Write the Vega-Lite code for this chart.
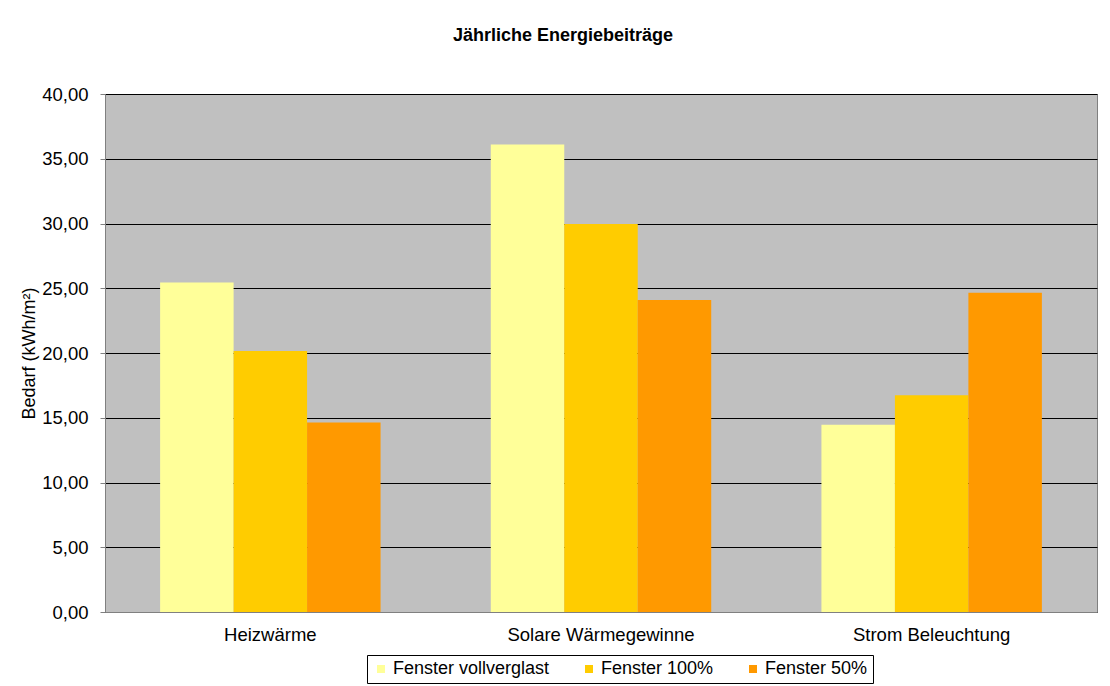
{
  "$schema": "https://vega.github.io/schema/vega-lite/v6.json",
  "width": 992,
  "height": 518,
  "autosize": {"type": "none"},
  "padding": {"left": 105, "top": 94, "right": 13, "bottom": 74},
  "background": "#ffffff",
  "title": {
    "text": "Jährliche Energiebeiträge",
    "anchor": "middle",
    "frame": "group",
    "dx": -38,
    "offset": 40,
    "font": "Liberation Sans",
    "fontSize": 18,
    "fontWeight": "bold",
    "color": "#000000"
  },
  "data": {
    "values": [
      {"kategorie": "Heizwärme", "variante": "Fenster vollverglast", "bedarf": 25.45},
      {"kategorie": "Heizwärme", "variante": "Fenster 100%", "bedarf": 20.15},
      {"kategorie": "Heizwärme", "variante": "Fenster 50%", "bedarf": 14.64},
      {"kategorie": "Solare Wärmegewinne", "variante": "Fenster vollverglast", "bedarf": 36.1},
      {"kategorie": "Solare Wärmegewinne", "variante": "Fenster 100%", "bedarf": 29.97},
      {"kategorie": "Solare Wärmegewinne", "variante": "Fenster 50%", "bedarf": 24.1},
      {"kategorie": "Strom Beleuchtung", "variante": "Fenster vollverglast", "bedarf": 14.45},
      {"kategorie": "Strom Beleuchtung", "variante": "Fenster 100%", "bedarf": 16.73},
      {"kategorie": "Strom Beleuchtung", "variante": "Fenster 50%", "bedarf": 24.65}
    ]
  },
  "mark": {"type": "bar", "stroke": null},
  "encoding": {
    "x": {
      "field": "kategorie",
      "type": "nominal",
      "sort": ["Heizwärme", "Solare Wärmegewinne", "Strom Beleuchtung"],
      "scale": {"paddingInner": 0.3333, "paddingOuter": 0.1667},
      "axis": {
        "title": null,
        "labelAngle": 0,
        "labelLimit": 0,
        "labelFont": "Liberation Sans",
        "labelFontSize": 18.5,
        "labelColor": "#000000",
        "labelPadding": 13,
        "ticks": false,
        "domainColor": "#808080",
        "domainWidth": 1
      }
    },
    "xOffset": {
      "field": "variante",
      "type": "nominal",
      "sort": ["Fenster vollverglast", "Fenster 100%", "Fenster 50%"],
      "scale": {"paddingInner": 0, "paddingOuter": 0}
    },
    "y": {
      "field": "bedarf",
      "type": "quantitative",
      "scale": {"domain": [0, 40], "nice": false},
      "axis": {
        "title": "Bedarf (kWh/m²)",
        "titleFont": "Liberation Sans",
        "titleFontSize": 18,
        "titleFontWeight": "normal",
        "titleColor": "#000000",
        "titlePadding": 3,
        "values": [0, 5, 10, 15, 20, 25, 30, 35, 40],
        "format": ".2f",
        "labelFont": "Liberation Sans",
        "labelFontSize": 18.5,
        "labelColor": "#000000",
        "labelPadding": 12,
        "tickSize": 5,
        "tickColor": "#808080",
        "domainColor": "#808080",
        "grid": true,
        "gridColor": "#000000",
        "gridWidth": 1
      }
    },
    "color": {
      "field": "variante",
      "type": "nominal",
      "sort": ["Fenster vollverglast", "Fenster 100%", "Fenster 50%"],
      "scale": {
        "domain": ["Fenster vollverglast", "Fenster 100%", "Fenster 50%"],
        "range": ["#FFFF99", "#FFCC00", "#FF9900"]
      },
      "legend": {
        "title": null,
        "orient": "none",
        "direction": "horizontal",
        "legendX": 262,
        "legendY": 561,
        "symbolType": "square",
        "symbolSize": 64,
        "symbolStrokeWidth": 0,
        "labelFont": "Liberation Sans",
        "labelFontSize": 18,
        "labelColor": "#000000",
        "labelOffset": 3,
        "columnPadding": 30,
        "padding": 5,
        "strokeColor": "#000000",
        "fillColor": "#ffffff"
      }
    }
  },
  "config": {
    "locale": {
      "number": {"decimal": ",", "thousands": ".", "grouping": [3], "currency": ["", " €"]}
    },
    "view": {"fill": "#C0C0C0", "stroke": "#808080", "strokeWidth": 1},
    "axis": {"gridOpacity": 1}
  }
}
